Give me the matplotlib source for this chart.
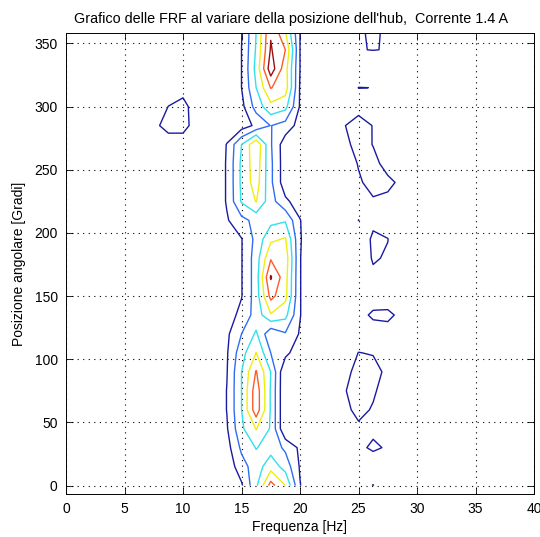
import numpy as np
from matplotlib import pyplot as plt

plt.rcParams['font.family'] = ['Liberation Sans', 'DejaVu Sans']

# measurement grid: frequency [Hz] x hub angle [deg]
freq = np.arange(0, 40.01, 1.25)
angles = np.arange(0, 361, 15)

# FRF amplitude around the main resonance, columns 13.75 .. 20 Hz, rows 0 .. 360 deg
main_cols = [13.75, 15.0, 16.25, 17.5, 18.75, 20.0]
main_band = [
    [0.10, 0.85, 2.80, 5.40, 4.00, 1.05],
    [0.30, 1.60, 2.50, 3.60, 2.60, 0.90],
    [0.60, 2.20, 3.05, 2.60, 1.80, 0.80],
    [0.90, 2.80, 4.05, 2.90, 0.00, 0.00],
    [1.03, 3.00, 5.60, 2.90, 0.00, 0.00],
    [1.03, 3.00, 5.60, 2.90, 0.00, 0.00],
    [0.95, 3.00, 5.07, 3.00, 0.00, 0.00],
    [0.90, 2.60, 4.02, 2.00, 1.30, 0.30],
    [0.80, 2.00, 3.15, 1.20, 1.90, 0.90],
    [0.50, 1.30, 2.40, 3.90, 3.30, 1.05],
    [0.00, 0.95, 2.50, 5.30, 4.30, 1.05],
    [0.00, 0.95, 2.50, 6.10, 4.40, 1.05],
    [0.00, 0.95, 2.50, 4.90, 4.60, 1.05],
    [0.00, 0.95, 2.30, 3.80, 4.10, 1.10],
    [0.90, 1.70, 2.30, 2.70, 2.90, 1.05],
    [1.10, 3.10, 4.05, 2.40, 1.20, 0.50],
    [1.10, 3.20, 4.50, 2.20, 0.40, 0.00],
    [1.10, 3.20, 4.60, 2.20, 0.40, 0.00],
    [1.05, 3.00, 4.85, 2.10, 0.40, 0.00],
    [0.30, 0.50, 1.20, 2.03, 1.60, 0.60],
    [0.00, 0.70, 2.40, 3.70, 3.30, 0.90],
    [0.00, 1.00, 3.00, 5.05, 4.50, 0.90],
    [0.00, 1.00, 3.30, 6.60, 4.40, 1.00],
    [0.00, 1.00, 3.10, 6.10, 5.00, 1.00],
    [0.00, 0.95, 3.00, 5.90, 4.00, 1.00],
]

# secondary peaks near 25 Hz, columns 23.75 .. 28.75 Hz
side_cols = [23.75, 25.0, 26.25, 27.5, 28.75]
side_band = [
    [0.0, 0.60, 1.03, 0.40, 0.0],
    [0.0, 0.30, 0.40, 0.30, 0.0],
    [0.0, 0.80, 1.15, 0.90, 0.0],
    [0.3, 0.80, 0.81, 0.50, 0.0],
    [0.7, 1.30, 0.90, 0.30, 0.0],
    [0.9, 1.50, 1.15, 0.50, 0.0],
    [0.6, 1.40, 1.30, 0.80, 0.0],
    [0.4, 1.02, 0.95, 0.30, 0.0],
    [0.0, 0.50, 0.85, 0.85, 0.3],
    [0.0, 0.90, 1.05, 1.08, 0.9],
    [0.0, 0.30, 0.85, 0.80, 0.3],
    [0.0, 0.20, 0.80, 0.80, 0.2],
    [0.0, 0.30, 1.10, 0.90, 0.2],
    [0.0, 0.20, 1.20, 1.02, 0.3],
    [0.0, 1.01, 0.75, 0.60, 0.2],
    [0.0, 0.50, 0.84, 0.70, 0.3],
    [0.0, 0.80, 1.50, 1.30, 0.7],
    [0.0, 1.10, 1.40, 0.50, 0.2],
    [0.5, 1.60, 0.95, 0.30, 0.0],
    [0.9, 1.80, 0.93, 0.20, 0.0],
    [0.2, 0.30, 0.40, 0.20, 0.0],
    [0.0, 1.02, 0.99, 0.30, 0.0],
    [0.0, 0.00, 0.30, 0.20, 0.0],
    [0.0, 0.97, 1.02, 0.97, 0.0],
    [0.0, 0.60, 1.50, 0.50, 0.0],
]

# small low-frequency bump, columns 7.5 .. 11.25 Hz, rows 270 .. 315 deg
low_cols = [7.5, 8.75, 10.0, 11.25]
low_rows = [270, 285, 300, 315]
low_bump = [
    [0.0, 0.10, 0.25, 0.0],
    [0.6, 1.60, 1.50, 0.3],
    [0.2, 1.02, 1.40, 0.3],
    [0.0, 0.30, 0.54, 0.0],
]

levels = [1, 2, 3, 4, 5, 6]
level_colors = ['#1a1aa0', '#2f6cf5', '#30e0ea', '#eeee10', '#ff5a28', '#9a1010']


def col_index(values):
    return [int(np.argmin(np.abs(freq - v))) for v in values]


Z = np.zeros((len(angles), len(freq)))
Z[:, col_index(main_cols)] = np.array(main_band)
Z[:, col_index(side_cols)] = np.array(side_band)
rows = [int(np.argmin(np.abs(angles - a))) for a in low_rows]
Z[np.ix_(rows, col_index(low_cols))] = np.array(low_bump)

fig = plt.figure(figsize=(5.40, 5.37), dpi=100)
ax = fig.add_axes([66 / 540, 1 - 494 / 537, 468 / 540, 461 / 537])

F, A = np.meshgrid(freq, angles)
ax.contour(F, A, Z, levels=levels, colors=level_colors, linewidths=1.0)

ax.set_xlim(0, 40)
ax.set_ylim(-6.7, 358.3)
ax.set_xticks(np.arange(0, 41, 5))
ax.set_yticks(np.arange(0, 351, 50))
ax.grid(True, color='black', linestyle=(0, (1, 4)), linewidth=0.8)
ax.tick_params(direction='in', top=True, right=True, length=5, width=0.6,
               labelsize=10, pad=6)
for s in ax.spines.values():
    s.set_linewidth(0.7)

ax.set_xlabel('Frequenza [Hz]', fontsize=10, labelpad=3)
ax.set_ylabel('Posizione angolare [Gradi]', fontsize=10, labelpad=6)
ax.set_title("Grafico delle FRF al variare della posizione dell'hub,  Corrente 1.4 A",
             fontsize=10.4, pad=7, x=0.48)

fig.savefig('out.png', dpi=100)
